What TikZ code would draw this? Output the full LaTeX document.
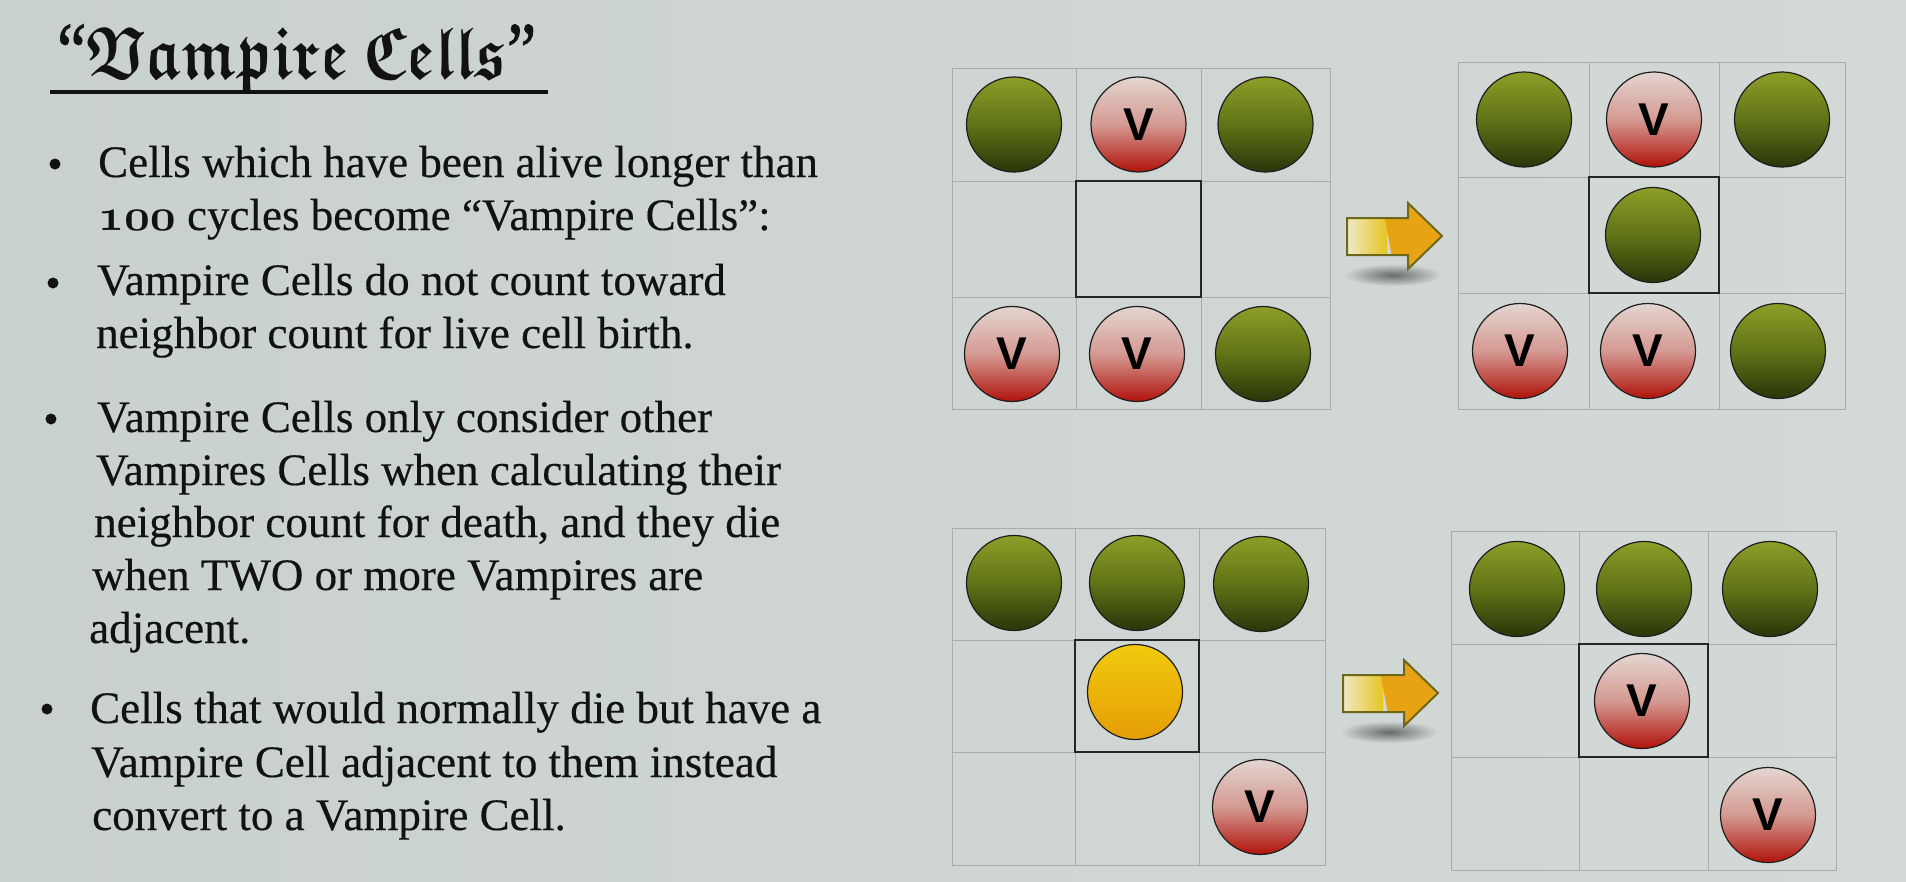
\documentclass[tikz,border=0pt]{standalone}
\usepackage{fontspec}
\usepackage{graphicx}
\setmainfont{Liberation Serif}[FakeBold=0.35]
\newfontfamily\quotefont{Liberation Serif}[FakeBold=1]
\newfontfamily\vfont{Liberation Sans}
\font\frakbold=eufb10 at 66pt
\font\oldnumfont=cmmib10 at 45pt
\definecolor{bgleft}{HTML}{C9D1CE}
\definecolor{bgright}{HTML}{D3D9D7}
\definecolor{bgmid}{HTML}{CED5D2}
\definecolor{inkcol}{HTML}{121212}
\definecolor{gridgray}{HTML}{A7ADAC}
\definecolor{boxdark}{HTML}{262626}
\definecolor{balledge}{HTML}{1E1E1E}
\definecolor{greentop}{HTML}{8E9E28}
\definecolor{greenmid}{HTML}{607316}
\definecolor{greenbot}{HTML}{28360A}
\definecolor{vamptop}{HTML}{E4D5D0}
\definecolor{vampmid}{HTML}{D49A92}
\definecolor{vampbot}{HTML}{B0120A}
\definecolor{yeltop}{HTML}{F1CB0E}
\definecolor{yelbot}{HTML}{E69C06}
\definecolor{arrowcream}{HTML}{F1EAD0}
\definecolor{arrowyellow}{HTML}{E6C522}
\definecolor{arroworange}{HTML}{E8A314}
\definecolor{arrowedge}{HTML}{6E681A}
\definecolor{shadowcore}{HTML}{656D6B}
\newcommand{\lifegrid}[8]{%
  \draw[gridline] (#1,#5) rectangle (#4,#8);
  \draw[gridline] (#2,#5) -- (#2,#8) (#3,#5) -- (#3,#8) (#1,#6) -- (#4,#6) (#1,#7) -- (#4,#7);
  \draw[focusbox] (#2,#6) rectangle (#3,#7);}
\newcommand{\blockarrow}[2]{%
  \begin{scope}[shift={(#1,#2)}]
    \shade[inner color=shadowcore, outer color=bgmid] (46,57) ellipse [x radius=48, y radius=11];
    \begin{scope}
      \clip (0,0) -- (61,0) -- (61,-15) -- (95,18) -- (61,51) -- (61,37) -- (0,37) -- cycle;
      \shade[left color=arrowcream, right color=arrowyellow] (-2,-20) rectangle (40,60);
      \fill[arroworange] (34,-20) -- (100,-20) -- (100,60) -- (49,60) -- cycle;
    \end{scope}
    \draw[arrowedge, line width=2pt, line join=miter] (0,0) -- (61,0) -- (61,-15) -- (95,18) -- (61,51) -- (61,37) -- (0,37) -- cycle;
  \end{scope}}
\begin{document}
\begin{tikzpicture}[x=1pt, y=-1pt,
  gridline/.style={draw=gridgray, line width=1pt},
  focusbox/.style={draw=boxdark, line width=1.8pt},
  cellball/.style={circle, minimum size=95pt, inner sep=0pt, draw=balledge, line width=1.2pt},
  live/.style={cellball, top color=greentop, bottom color=greenbot, middle color=greenmid},
  vamp/.style={cellball, top color=vamptop, bottom color=vampbot, middle color=vampmid, text=black, font=\vfont\bfseries\fontsize{46}{46}\selectfont},
  dying/.style={cellball, top color=yeltop, bottom color=yelbot},
  linetext/.style={anchor=base west, inner sep=0pt, text=inkcol, font=\fontsize{45}{45}\selectfont},
  bulletdot/.style={circle, fill=inkcol, minimum size=11pt, inner sep=0pt},
]
\useasboundingbox (0,0) rectangle (1906,881);
\shade[left color=bgleft, right color=bgright] (0,0) rectangle (1906,881);

% title
\node[anchor=base west, inner sep=0pt, text=inkcol] (title) at (57,78)
  {\scalebox{0.91}[1.12]{{\fontsize{72}{72}\quotefont “}{\frakbold Vampire}\hspace{16pt}{\frakbold Cells}{\fontsize{72}{72}\quotefont ”}}};
\draw[inkcol, line width=4pt] (50,92) -- (548,92);

% bullets
\node[bulletdot] (d1) at (55,164) {};
\node[bulletdot] (d2) at (53,283) {};
\node[bulletdot] (d3) at (51,419) {};
\node[bulletdot] (d4) at (47,709) {};

\node[linetext] (l1) at (98,177) {Cells which have been alive longer than};
\node[linetext] (l2) at (98,230) {{\oldnumfont 100} cycles become “Vampire Cells”:};
\node[linetext] (l3) at (97,295) {Vampire Cells do not count toward};
\node[linetext] (l4) at (96,348) {neighbor count for live cell birth.};
\node[linetext] (l5) at (97,432) {Vampire Cells only consider other};
\node[linetext] (l6) at (96,485) {Vampires Cells when calculating their};
\node[linetext] (l7) at (94,537) {neighbor count for death, and they die};
\node[linetext] (l8) at (92,590) {when TWO or more Vampires are};
\node[linetext] (l9) at (89,643) {adjacent.};
\node[linetext] (l10) at (90,723) {Cells that would normally die but have a};
\node[linetext] (l11) at (91,777) {Vampire Cell adjacent to them instead};
\node[linetext] (l12) at (92,830) {convert to a Vampire Cell.};

% grids
\lifegrid{952}{1076}{1201}{1330}{68}{181}{297}{409}
\lifegrid{1458}{1589}{1719}{1845}{62}{177}{293}{409}
\lifegrid{952}{1075}{1199}{1325}{528}{640}{752}{865}
\lifegrid{1451}{1579}{1708}{1836}{531}{644}{757}{870}

% grid 1
\node[live] (a11) at (1014,124.5) {};
\node[vamp] (a12) at (1138.5,124.5) {V};
\node[live] (a13) at (1265.5,124.5) {};
\node[vamp] (a31) at (1012,354) {V};
\node[vamp] (a32) at (1137,354) {V};
\node[live] (a33) at (1263,354) {};

% grid 2
\node[live] (b11) at (1524,119.5) {};
\node[vamp] (b12) at (1654,119.5) {V};
\node[live] (b13) at (1782,119.5) {};
\node[live] (b22) at (1653,235) {};
\node[vamp] (b31) at (1520,351) {V};
\node[vamp] (b32) at (1648,351) {V};
\node[live] (b33) at (1778,351) {};

% grid 3
\node[live] (c11) at (1014,583) {};
\node[live] (c12) at (1137,583) {};
\node[live] (c13) at (1261,584) {};
\node[dying] (c22) at (1135,692) {};
\node[vamp] (c33) at (1260,807) {V};

% grid 4
\node[live] (e11) at (1517,589) {};
\node[live] (e12) at (1644,589) {};
\node[live] (e13) at (1770,589) {};
\node[vamp] (e22) at (1642,701) {V};
\node[vamp] (e33) at (1768,815) {V};

% arrows
\blockarrow{1347}{218}
\blockarrow{1343}{675}
\end{tikzpicture}
\end{document}
